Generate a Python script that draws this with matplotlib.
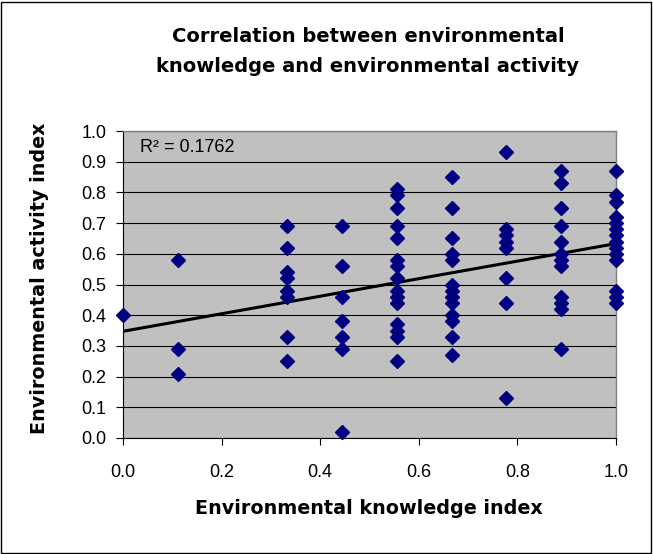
import numpy as np
import matplotlib
matplotlib.use("Agg")
import matplotlib.pyplot as plt
from matplotlib.patches import Rectangle

plt.rcParams['font.family'] = ['Liberation Sans', 'DejaVu Sans']

title_lines = ["Correlation between environmental", "knowledge and environmental activity"]
x_label = "Environmental knowledge index"
y_label = "Environmental activity index"
r2_label = "R² = 0.1762"

knowledge = (
    [0.0]
    + [1/9] * 3
    + [3/9] * 8
    + [4/9] * 7
    + [5/9] * 15
    + [6/9] * 13
    + [7/9] * 8
    + [8/9] * 12
    + [1.0] * 14
)
activity = (
    [0.40]
    + [0.58, 0.29, 0.21]
    + [0.69, 0.62, 0.54, 0.52, 0.48, 0.46, 0.33, 0.25]
    + [0.69, 0.56, 0.46, 0.38, 0.33, 0.29, 0.02]
    + [0.81, 0.79, 0.75, 0.69, 0.65, 0.58, 0.56, 0.52, 0.48, 0.46, 0.44, 0.37, 0.35, 0.33, 0.25]
    + [0.85, 0.75, 0.65, 0.60, 0.58, 0.50, 0.48, 0.46, 0.44, 0.40, 0.38, 0.33, 0.27]
    + [0.93, 0.68, 0.66, 0.64, 0.62, 0.52, 0.44, 0.13]
    + [0.87, 0.83, 0.75, 0.69, 0.64, 0.60, 0.58, 0.56, 0.46, 0.44, 0.42, 0.29]
    + [0.87, 0.79, 0.77, 0.72, 0.70, 0.68, 0.66, 0.64, 0.62, 0.60, 0.58, 0.48, 0.46, 0.44]
)
x_ticks = [0.0, 0.2, 0.4, 0.6, 0.8, 1.0]
y_ticks = [0.0, 0.1, 0.2, 0.3, 0.4, 0.5, 0.6, 0.7, 0.8, 0.9, 1.0]

W, H = 653, 554
fig = plt.figure(figsize=(W / 100, H / 100), dpi=100)
fig.patches.append(Rectangle((1 / W, 1 / H), (W - 3) / W, (H - 3) / H, transform=fig.transFigure,
                             fill=False, edgecolor='black', linewidth=1.0))

ax = fig.add_axes([123 / W, 1 - 438 / H, (616 - 123) / W, (438 - 131) / H])
ax.set_facecolor('#C0C0C0')
ax.set_xlim(0, 1)
ax.set_ylim(0, 1)
ax.set_xticks(x_ticks)
ax.set_yticks(y_ticks)
ax.set_xticklabels([f"{v:.1f}" for v in x_ticks])
ax.set_yticklabels([f"{v:.1f}" for v in y_ticks])
ax.tick_params(direction='out', length=5, width=0.8, labelsize=13, color='black')
ax.tick_params(axis='y', pad=7)
ax.tick_params(axis='x', pad=14)
ax.yaxis.grid(True, color='black', linewidth=0.8)
ax.set_axisbelow(True)
for s in ['top', 'right']:
    ax.spines[s].set_color('#808080')
    ax.spines[s].set_linewidth(1.0)
for s in ['left', 'bottom']:
    ax.spines[s].set_color('black')
    ax.spines[s].set_linewidth(0.8)

slope, intercept = np.polyfit(knowledge, activity, 1)
xl = np.array([0.0, 1.0])
ax.plot(xl, intercept + slope * xl, color='black', linewidth=2.2, zorder=3)

ax.plot(knowledge, activity, linestyle='none', marker='D', markersize=7.5,
        color='#000080', markeredgecolor='#000080', zorder=4, clip_on=False)

ax.text(17 / 493, (438 - 147) / 307, r2_label, transform=ax.transAxes, fontsize=13,
        va='center', ha='left')

title_font = dict(fontweight='bold', family=['DejaVu Sans'], fontsize=14)
label_font = dict(fontweight='bold', family=['DejaVu Sans'], fontsize=13.8)
fig.text(368 / W, 1 - 36 / H, title_lines[0], ha='center', va='center', **title_font)
fig.text(368 / W, 1 - 67 / H, title_lines[1], ha='center', va='center', **title_font)
fig.text(369 / W, 1 - 509 / H, x_label, ha='center', va='center', **label_font)
fig.text(40 / W, 1 - 278 / H, y_label, ha='center', va='center', rotation=90, **label_font)

fig.savefig("out.png", dpi=100)
